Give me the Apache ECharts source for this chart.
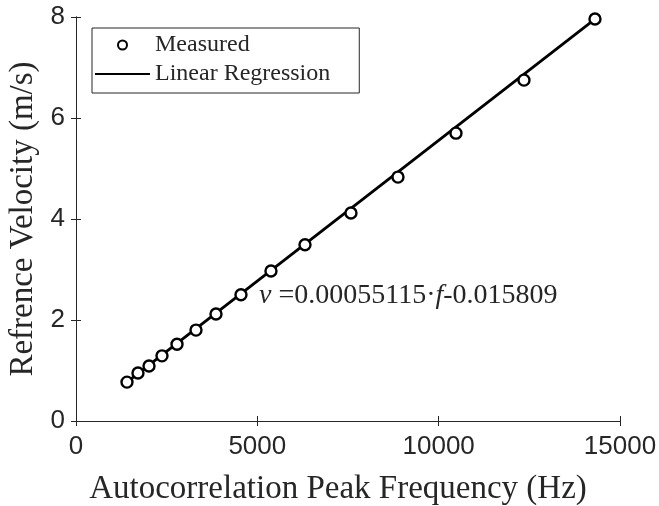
<!DOCTYPE html>
<html>
<head>
<meta charset="utf-8">
<script src="https://cdn.jsdelivr.net/npm/echarts@6/dist/echarts.min.js"></script>
<style>
  html, body { margin: 0; padding: 0; background: #fff; }
  #chart { width: 659px; height: 506px; }
</style>
</head>
<body>
<div id="chart"></div>
<script>
// measured points
const freqHz = [1406, 1709, 2013, 2371, 2785, 3309, 3860, 4549, 5376, 6314, 7582, 8878, 10477, 12352, 14310]
const velocity = [0.77, 0.95, 1.09, 1.29, 1.52, 1.80, 2.12, 2.50, 2.97, 3.49, 4.12, 4.83, 5.70, 6.75, 7.96]
// regression line end points
const fitFreq = [1406, 14310]
const fitVel = [0.77, 7.96]
const xTicks = [0, 5000, 10000, 15000]
const yTicks = [0, 2, 4, 6, 8]

const axisColor = "#262626"
const serif = "Liberation Serif"
const sans = "Liberation Sans"

const chart = echarts.init(document.getElementById("chart"))

const baseAxis = {
  type: "value",
  axisLine: { show: true, lineStyle: { color: axisColor, width: 1 } },
  axisTick: { show: true, inside: true, length: 5, lineStyle: { color: axisColor } },
  splitLine: { show: false },
}

const option = {
  animation: false,
  backgroundColor: "#fff",
  grid: { left: 76, right: 39, top: 17, bottom: 85, outerBoundsMode: "none", containLabel: false },
  legend: {
    left: 92,
    top: 28,
    orient: "vertical",
    borderColor: axisColor,
    borderWidth: 1,
    borderRadius: 0,
    padding: [5, 29, 7, 2],
    itemWidth: 55,
    itemHeight: 9,
    itemGap: 5,
    textStyle: { fontFamily: serif, fontSize: 24, color: axisColor, lineHeight: 24 },
    data: [
      { name: "Measured" },
      // hide the small marker the line icon carries, keep the line
      { name: "Linear Regression", itemStyle: { opacity: 0 } },
    ],
  },
  xAxis: [
    {
      ...baseAxis,
      min: xTicks[0],
      max: xTicks[xTicks.length - 1],
      interval: 5000,
      name: "Autocorrelation Peak Frequency (Hz)",
      nameLocation: "middle",
      nameGap: 52,
      nameTextStyle: { fontFamily: serif, fontSize: 33, color: axisColor, padding: [0, 20, 0, 0] },
      axisLabel: { fontFamily: sans, fontSize: 26, color: axisColor, margin: 13, formatter: (v) => String(v) },
    },
    {
      ...baseAxis,
      position: "top",
      min: xTicks[0],
      max: xTicks[xTicks.length - 1],
      interval: 5000,
      axisLabel: { show: false },
    },
  ],
  yAxis: [
    {
      ...baseAxis,
      min: yTicks[0],
      max: yTicks[yTicks.length - 1],
      interval: 2,
      name: "Refrence Velocity (m/s)",
      nameLocation: "middle",
      nameGap: 32,
      nameTextStyle: { fontFamily: serif, fontSize: 33, color: axisColor },
      axisLabel: { fontFamily: sans, fontSize: 26, color: axisColor, margin: 11, formatter: (v) => String(v) },
    },
    {
      ...baseAxis,
      position: "right",
      min: yTicks[0],
      max: yTicks[yTicks.length - 1],
      interval: 2,
      axisLabel: { show: false },
    },
  ],
  graphic: [
    {
      type: "text",
      left: 259,
      top: 282,
      style: {
        text: "{i|v} =0.00055115·{i|f}-0.015809",
        fontFamily: serif,
        fontSize: 28,
        fill: axisColor,
        rich: {
          i: { fontFamily: serif, fontStyle: "italic", fontSize: 28, fill: axisColor },
        },
      },
    },
  ],
  series: [
    {
      name: "Linear Regression",
      type: "line",
      symbol: "none",
      lineStyle: { color: "#000", width: 2.8 },
      itemStyle: { color: "#000" },
      data: fitFreq.map((f, i) => [f, fitVel[i]]),
      z: 2,
    },
    {
      name: "Measured",
      type: "scatter",
      symbol: "circle",
      symbolSize: 11,
      itemStyle: { color: "#fff", borderColor: "#000", borderWidth: 2.4, opacity: 1 },
      data: freqHz.map((f, i) => [f, velocity[i]]),
      z: 3,
    },
  ],
}

chart.setOption(option)
</script>
</body>
</html>
